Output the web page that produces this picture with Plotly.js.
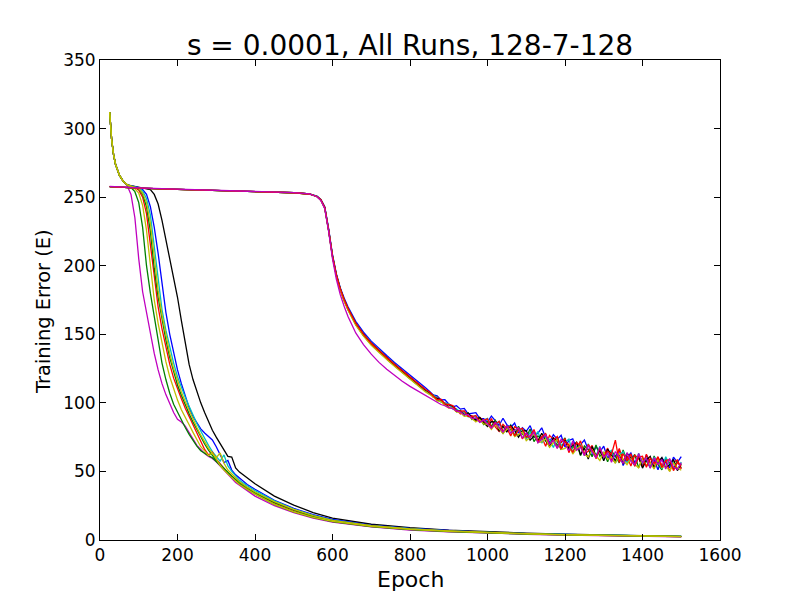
<!DOCTYPE html>
<html>
<head>
<meta charset="utf-8">
<script src="https://cdn.plot.ly/plotly-3.0.1.min.js"></script>
<style>html,body{margin:0;padding:0;background:#fff;}#chart{width:800px;height:600px;}</style>
</head>
<body>
<div id="chart"></div>
<script>
// ---------- data ----------
const TITLE = "s = 0.0001, All Runs, 128-7-128";
const X_LABEL = "Epoch";
const Y_LABEL = "Training Error (E)";
const X_TICKS = [0, 200, 400, 600, 800, 1000, 1200, 1400, 1600];
const X_TICK_TEXT = ["0", "200", "400", "600", "800", "1000", "1200", "1400", "1600"];
const Y_TICKS = [0, 50, 100, 150, 200, 250, 300, 350];
const Y_TICK_TEXT = ["0", "50", "100", "150", "200", "250", "300", "350"];

// fast-converging runs
const FAST_EPOCHS = [25,30,35,40,50,60,70,80,90,100,110,120,130,140,150,160,170,180,190,200,210,220,230,240,250,260,270,280,290,300,310,320,330,340,350,360,380,400,450,500,550,600,700,800,900,1000,1100,1200,1300,1400,1500];
const fastBlack   = [312,292,281,274,266,261.5,259,258.5,258,257.5,257,256.5,255.5,252,245,233,219,206,193,177,160,143,128,117,108,100,93,86,80,75,70,65.5,61,60.5,52.5,49.5,45,41,32,25.5,20,16,11.5,9,7.2,5.9,5,4.2,3.6,3.1,2.7];
const fastBlue    = [312,292,281,274,266,261.5,259,258.4,257.8,257,255.5,252,243,228,209,186,166,150,136,124,114,105,96.5,90,85,81,78,75.5,73,68,62,56.5,58,51,47.5,45,40.5,37,29,23,18.5,15,10.8,8.4,6.8,5.6,4.7,4,3.5,3,2.6];
const fastCyan    = [312,292,281,274,266,261.5,259,258.3,257.6,256.7,254.5,249,237,214,188,168,153,140,129,119,111,104,97.5,91,85,79.5,74,69,64.5,61,57.5,62,54,50,46.5,43.5,39.5,36,28.5,22.5,18,14.5,10.5,8.2,6.6,5.5,4.6,4,3.4,3,2.6];
const fastRed     = [312,292,281,274,266,261.5,259,258,257,255,250,238,216,190,170,154,140,128,118,110,103,96,90,84,78.5,73,66,62,64,59,55.5,52,49,46.5,44,42,38,34.5,27,21.5,17,14,10.2,7.9,6.4,5.3,4.5,3.8,3.3,2.9,2.5];
const fastMagenta = [312,292,281,274,266,261.5,258.5,252,235,205,181,165,150,136,124,114,106,99,93,88,86,83,78,73,69,66,63,61,59.5,57,54,51,47.5,44.5,42,40,36,32,25,20,16,13,9.5,7.3,6,5,4.2,3.6,3.1,2.7,2.3];
const fastGreen   = [312,292,281,274,266,261.5,259,257,254,246,228,200,180,163,145,129,117,107,99,93,87,82,77,72.5,68.5,65,63,61.5,60,57.5,54.5,51.5,48.5,46,43.5,41,37,33.5,26,20.5,16.5,13.5,9.8,7.6,6.2,5.1,4.3,3.7,3.2,2.8,2.4];
const fastGreen2  = [312,292,281,274,266,261.5,259,258,257.2,256,252,243,225,198,177,160,146,133,122,113,105.5,98.5,92,86,80.5,75,70,65.5,61.5,58,55,52,49,46.5,44,42,38,34.5,27.5,22,17.5,14.2,10.3,8,6.5,5.4,4.6,3.9,3.4,3,2.6];
const fastYellow  = [312,292,281,274,266,261.5,259,257.5,256,253,244,226,198,175,158,143,130,119,110,102,95,89,84,78.5,73,68,65,61.5,63.5,58.5,54.5,51,48,45.5,43,40.5,36.8,33.5,26,20.5,16.5,13.6,10,7.8,6.3,5.2,4.4,3.8,3.3,2.9,2.5];
const fastYellow2 = [312,292,281,274,266,261.5,259,258.2,257.4,256.3,253,246,231,206,182,164,149,136,125,116,108,101,94.5,88,82,76.5,71.5,67,63,60,63.5,56,51,48,45,42.5,38.5,35,28,22.3,17.8,14.3,10.4,8.1,6.6,5.4,4.6,3.9,3.4,3,2.6];

// slow runs (long plateau, noisy tail)
const SLOW_EPOCHS = [25,50,100,200,300,400,500,540,560,570,580,590,600,610,620,630,640,660,680,700,720,740,760,780,800,820,840,
  850,860,870,880,890,900,910,920,930,940,950,960,970,980,990,1000,1010,1020,1030,1040,1050,1060,1070,1080,1090,1100,
  1110,1120,1130,1140,1150,1160,1170,1180,1190,1200,1210,1220,1230,1240,1250,1260,1270,1280,1290,1300,
  1310,1320,1330,1340,1350,1360,1370,1380,1390,1400,1410,1420,1430,1440,1450,1460,1470,1480,1490,1500];
const slowBlue = [257.7,257.3,256.6,255.7,254.9,254.1,253.2,252.4,250.8,248.3,243,227,208,194,184,176.5,170,159.5,151.5,145,139.5,134.5,129.5,125,120.5,115.8,111,
  108.5,105.8,105.2,102.2,102.3,99.2,97,97.9,95.4,95.9,91.9,92.2,92.8,88.6,88.5,86,90.3,87,83.7,88.8,84,82,85.3,78,81.9,79.3,
  83.4,75.8,77.9,81.8,74.6,71.3,76.8,73.4,76.4,67.7,72.6,73.8,66.7,69.6,72.9,65.8,61.5,68.1,64.3,68.4,
  59.6,63.3,60.6,65.9,54.3,60.3,63.4,56.4,60.7,53.6,62,55.6,58.3,51.2,59.9,56.3,52.7,60.4,56.6,60.8];
const slowGreen = [257.7,257.3,256.6,255.7,254.9,254.1,253.2,252.3,250.4,247.8,242,225.5,206.5,192.5,182.5,174.5,168,157,149,142.5,137,132,127,122,117.5,113,108.5,
  106.5,105.7,101.8,101.6,98.7,99.1,96.2,93.5,94.5,91.7,92.8,87.9,88.8,89,84.2,86.4,83,87.3,81.8,77.8,83.1,80.4,76.1,83,77.2,74.6,
  80.9,71.8,75.9,73.7,77.3,67.9,73.8,69,71,74.5,65.2,67.2,70.7,61.5,68.6,65.8,60.7,69.3,61,63.9,
  57.1,64.7,61.6,56.2,65.7,57.7,58.3,62.4,52.6,59.6,57.5,52.9,61.3,55.1,51.2,59.3,56.3,51.8,57.7,52.4];
const slowRed = [257.7,257.3,256.6,255.7,254.9,254.1,253.2,252.3,250.5,248,242.3,225.8,206.8,192.8,182.8,174.8,168.2,157.3,149.3,142.7,137.2,132.2,127.3,122.4,117.8,113.3,108.8,
  107.3,104.1,104.3,101,100.1,96.6,97.7,95.1,91.9,93.8,90.6,90.6,86.5,89.4,87,83.3,88.5,82.4,79.2,84.4,81.4,75.9,82.6,80.6,73.8,77.6,
  74.6,80.6,71.9,75.1,68.4,76.3,73.4,67.1,71.4,73.7,63.7,70.5,66.4,72.3,62.9,64.7,69,59.3,66.1,61.6,
  67,58.8,56.7,66.7,58.1,60.9,53.9,61.8,59.7,53.3,62.6,56.5,53,60.4,54.4,58.4,50.2,56.5,58.3,51.7];
const slowCyan = [257.7,257.3,256.6,255.7,254.9,254.1,253.2,252.4,250.6,248.1,242.6,226.3,207.4,193.4,183.4,175.5,169,158.2,150.3,143.8,138.3,133.3,128.3,123.5,118.8,114.2,109.6,
  106.8,105.5,103.9,100.5,99.9,99.2,95.6,95.6,93.3,93.7,89.8,90.1,90.3,86.1,87.4,88.7,81.9,84.3,86.3,79.6,80.8,84.1,76.6,79.8,81.1,73.4,
  78.5,74.8,79.1,70.7,75,73.4,67.5,74.5,68.9,71.2,73.5,64.2,68.2,69.6,61.7,70.1,63.4,61.1,68.3,58.8,
  63.1,65.4,56.1,62.3,64.4,56.4,59.6,53.9,63.3,56.2,59.6,52.6,60.2,57.1,52,60.7,54.5,57.2,51.2,56.8];
const slowBlack = [257.7,257.3,256.6,255.7,254.9,254.1,253.2,252.3,250.5,248,242.4,226,207,193.2,183.2,175.3,168.8,158,150,143.4,138,133,128,123.2,118.5,114,109.4,
  107.6,104.6,103.2,102.3,98.5,98.5,97.8,94.2,93.8,91,92.6,89.3,87.4,89.4,85.7,82.8,86.4,85.8,79.7,82.9,78.9,83.5,79.9,75,79.5,79.7,
  72.8,75.8,72.3,77.8,72.3,68.5,74.6,72.2,65.9,72.7,66.9,68.7,71.3,62.2,67.1,59,68.2,61.5,65.3,57.7,
  66.2,62.3,57.7,62.9,55.4,63.3,59.9,54.8,60.6,52.4,58.4,61,52.7,56.8,60.2,52.9,54.8,58.7,50.6,55.6];
const slowYellow = [257.7,257.3,256.6,255.7,254.9,254.1,253.2,252.3,250.4,247.8,242,225.5,206.3,192.3,182.3,174.3,167.7,156.7,148.7,142,136.5,131.6,126.7,121.8,117.2,112.6,108,
  106,104.4,101.5,100.9,98.3,96.2,96.1,93.4,92.9,90.2,90.5,88.5,86.2,87.7,84.6,84.3,80.7,84.5,80.7,77.7,80.7,81.6,75.4,76.8,78.7,72.4,
  74.9,77.3,71,71.6,73.8,67.6,70.7,73.3,66,66.7,70,62.7,66.7,68.7,62.4,60.5,66,61.4,58,64.2,
  58.9,60.6,55.9,63.2,58.2,55,59.5,55.1,52.5,59.6,54.5,56.2,51.7,58.7,52.7,54.4,50,56.2,52.6,50.9];
const slowRed2 = [257.7,257.3,256.6,255.7,254.9,254.1,253.2,252.3,250.5,248.1,242.5,226.1,207.2,193.3,183.3,175.4,168.9,158.1,150.1,143.5,138.1,133.1,128.2,123.4,118.8,114.3,109.7,
  107.9,105.2,102.4,102.6,99.2,98.8,98.1,93.9,94.1,94.2,90.1,89.9,90.8,86.2,87.2,88.4,82.2,84.2,86.6,79.2,82.3,82.8,76,80.3,81.4,74.9,
  75.9,79.7,71.6,75.4,77.6,69.8,72.3,75.5,66.5,71.9,69.1,63.8,71,68.7,62.1,69.7,65.4,59.9,67.1,60.4,
  64.7,62.5,72.8,56.6,62.9,57.7,62.8,53.7,60.4,61,53,59.5,55.7,60.8,52.9,58,58.7,50.6,56.5,53.9];
const slowMagenta = [257.8,257.4,256.7,255.8,255,254.2,253.3,252.4,250.3,247.5,241.5,225,205,190,179,170.5,163,151,142.5,135.5,129.5,124.5,120,115.8,112,108.8,105.5,
  104,102.5,100.3,98.8,97.9,96.5,95.8,94.1,93.2,91.2,91.6,88.6,89,85.8,87.6,84.2,81.6,85.8,81.9,78.7,83.5,78,79.9,81.8,74.2,78.2,
  74.7,79,70.8,73.4,77,69.7,72.8,66.8,73.5,70.1,65.1,72.2,65.5,67.6,61.5,68.9,64.3,59.9,67.9,60.1,
  63.4,56.7,64.5,60.7,55.7,63.7,57.4,54.9,63,56.5,59.5,52.3,59.9,55,58.7,51.8,59.5,53.2,51.5,56.3];

// matplotlib "classic" colour cycle
const C = {b: "#0000ff", g: "#008000", r: "#ff0000", c: "#00bfbf", m: "#bf00bf", y: "#bfbf00", k: "#000000"};

const FAST_RUNS = [
  [fastBlack, C.k], [fastBlue, C.b], [fastCyan, C.c], [fastRed, C.r], [fastMagenta, C.m],
  [fastGreen, C.g], [fastGreen2, C.g], [fastYellow, C.y], [fastYellow2, C.y]
];
const SLOW_RUNS = [
  [slowBlue, C.b], [slowGreen, C.g], [slowRed, C.r], [slowCyan, C.c], [slowBlack, C.k],
  [slowYellow, C.y], [slowRed2, C.r], [slowMagenta, C.m]
];

const traces = [];
FAST_RUNS.forEach(([ys, col]) => traces.push({x: FAST_EPOCHS, y: ys, type: "scatter", mode: "lines",
  line: {color: col, width: 1.3}, hoverinfo: "skip", showlegend: false}));
SLOW_RUNS.forEach(([ys, col]) => traces.push({x: SLOW_EPOCHS, y: ys, type: "scatter", mode: "lines",
  line: {color: col, width: 1.3}, hoverinfo: "skip", showlegend: false}));

const FONT = "DejaVu Sans, sans-serif";
const axisCommon = {
  showgrid: false, zeroline: false, showline: true, linecolor: "#000", linewidth: 1,
  mirror: "ticks", ticks: "inside", ticklen: 6, tickwidth: 1, tickcolor: "#000",
  tickfont: {family: FONT, size: 17, color: "#000"}, tickmode: "array"
};
const layout = {
  width: 800, height: 600,
  margin: {l: 100, r: 80, t: 60, b: 60},
  paper_bgcolor: "#fff", plot_bgcolor: "#fff",
  font: {family: FONT, color: "#000"},
  title: {text: TITLE, font: {family: FONT, size: 28, color: "#000"}, x: 0.5125, xanchor: "center", y: 0.925, yanchor: "middle", yref: "container"},
  xaxis: Object.assign({}, axisCommon, {range: [0, 1600], tickvals: X_TICKS, ticktext: X_TICK_TEXT}),
  yaxis: Object.assign({}, axisCommon, {range: [0, 350], tickvals: Y_TICKS, ticktext: Y_TICK_TEXT}),
  annotations: [
    {text: X_LABEL, xref: "paper", yref: "paper", x: 0.5, y: -0.083, xanchor: "center", yanchor: "middle",
     showarrow: false, font: {family: FONT, size: 22, color: "#000"}},
    {text: Y_LABEL, xref: "paper", yref: "paper", x: -0.092, y: 0.475, xanchor: "center", yanchor: "middle",
     textangle: -90, showarrow: false, font: {family: FONT, size: 19.4, color: "#000"}}
  ]
};
Plotly.newPlot("chart", traces, layout, {staticPlot: true, displayModeBar: false});
</script>
</body>
</html>
